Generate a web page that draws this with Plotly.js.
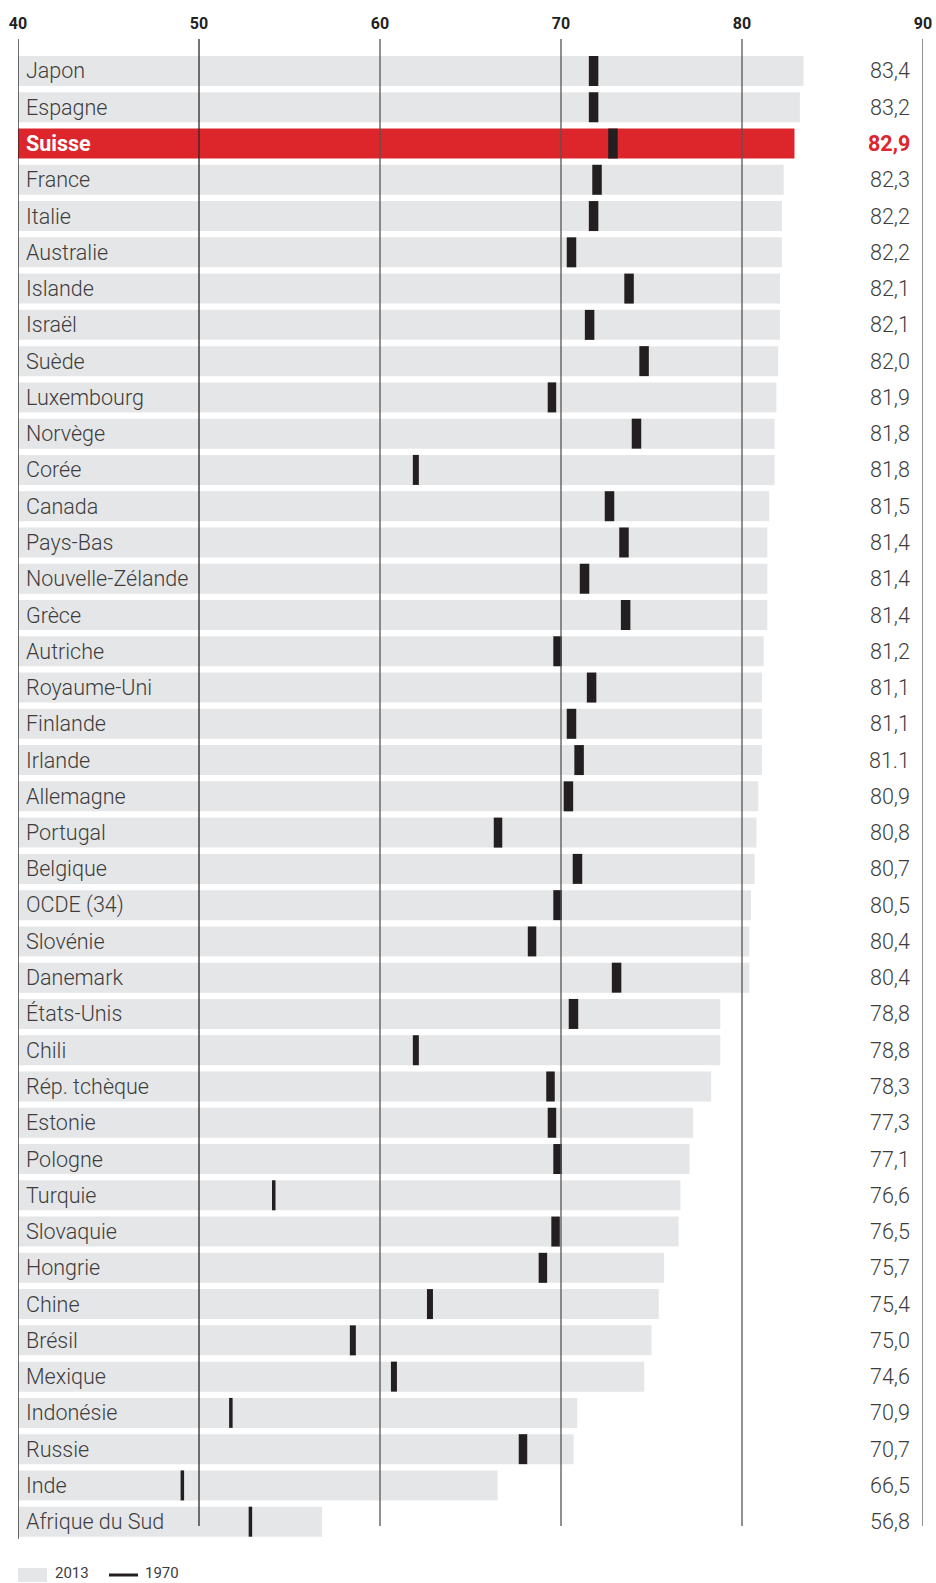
<!DOCTYPE html>
<html>
<head>
<meta charset="utf-8">
<script src="https://cdn.plot.ly/plotly-3.0.1.min.js"></script>
<style>
  html, body { margin: 0; padding: 0; background: #fff; }
  #chart { width: 936px; height: 1583px; }
</style>
</head>
<body>
<div id="chart"></div>
<script>
// ---- Data ----
const countries = ["Japon","Espagne","Suisse","France","Italie","Australie","Islande","Israël","Suède","Luxembourg","Norvège","Corée","Canada","Pays-Bas","Nouvelle-Zélande","Grèce","Autriche","Royaume-Uni","Finlande","Irlande","Allemagne","Portugal","Belgique","OCDE (34)","Slovénie","Danemark","États-Unis","Chili","Rép. tchèque","Estonie","Pologne","Turquie","Slovaquie","Hongrie","Chine","Brésil","Mexique","Indonésie","Russie","Inde","Afrique du Sud"];
const v2013 = [83.4,83.2,82.9,82.3,82.2,82.2,82.1,82.1,82.0,81.9,81.8,81.8,81.5,81.4,81.4,81.4,81.2,81.1,81.1,81.1,80.9,80.8,80.7,80.5,80.4,80.4,78.8,78.8,78.3,77.3,77.1,76.6,76.5,75.7,75.4,75.0,74.6,70.9,70.7,66.5,56.8];
const v1970 = [71.8,71.8,72.87,71.99,71.8,70.58,73.76,71.58,74.59,69.5,74.17,61.98,72.68,73.48,71.3,73.57,69.81,71.69,70.58,71.0,70.41,66.52,70.91,69.81,68.4,73.07,70.69,61.98,69.42,69.5,69.81,54.13,69.7,69.0,62.76,58.5,60.77,51.76,67.9,49.08,52.84];
const labels2013 = ["83,4","83,2","82,9","82,3","82,2","82,2","82,1","82,1","82,0","81,9","81,8","81,8","81,5","81,4","81,4","81,4","81,2","81,1","81,1","81.1","80,9","80,8","80,7","80,5","80,4","80,4","78,8","78,8","78,3","77,3","77,1","76,6","76,5","75,7","75,4","75,0","74,6","70,9","70,7","66,5","56,8"];
const xTicks = [40,50,60,70,80,90];
const highlight = "Suisse";
const legendLabels = ["2013","1970"];

// ---- Styling ----
const GRAY = "#e5e6e8", RED = "#dc262c", DARK = "#231f20", TEXT = "#3d3d3d";
const FONT = "Roboto, 'Liberation Sans', Arial, sans-serif";
const plotW = 905, plotH = 1500, xMin = 40, xMax = 90;
const pxToData = px => px * (xMax - xMin) / plotW;
// 1970 marker width rule (px), thinner for lower values as in the reference
const markerPx = v => v < 55 ? 3.5 : (v < 64 ? 6 : (v < 70.2 ? 8.5 : 9.5));
const barW = 0.827;

const barColors = countries.map(c => c === highlight ? RED : GRAY);
const mw = v1970.map(v => pxToData(markerPx(v)));

const traces = [
  {
    type: "bar", orientation: "h", y: countries, x: v2013,
    marker: { color: barColors }, width: barW, hoverinfo: "skip", showlegend: false
  },
  {
    type: "bar", orientation: "h", y: countries,
    x: mw, base: v1970.map((v, i) => v - mw[i] / 2),
    marker: { color: DARK }, width: barW, hoverinfo: "skip", showlegend: false
  }
];

const shapes = [];
// left axis line at 40
shapes.push({ type: "line", xref: "x", yref: "paper", x0: 40, x1: 40, y0: 0, y1: 1,
  line: { color: "#222", width: 1.3 }, layer: "above" });
xTicks.slice(1).forEach(t => {
  shapes.push({ type: "line", xref: "x", yref: "paper", x0: t, x1: t, y0: 0.0087, y1: 1,
    line: { color: t === 50 ? "#2a2a2a" : "#555", width: 1.3 }, layer: "above" });
});

const annotations = [];
countries.forEach((c, i) => {
  const hi = c === highlight;
  annotations.push({
    x: 40, y: c, xref: "x", yref: "y", xanchor: "left", yanchor: "middle",
    xshift: 6, text: hi ? "<b>" + c + "</b>" : c, showarrow: false,
    font: { family: FONT, size: 21.5, color: hi ? "#ffffff" : TEXT, weight: hi ? 700 : 300 }
  });
  annotations.push({
    x: 90, y: c, xref: "x", yref: "y", xanchor: "right", yanchor: "middle",
    xshift: -11, text: hi ? "<b>" + labels2013[i] + "</b>" : labels2013[i], showarrow: false,
    font: { family: FONT, size: 21.5, color: hi ? RED : TEXT, weight: hi ? 700 : 300 }
  });
});

// legend (manual), positions in px below the plot area
const py = px => -(px - 1539) / plotH;
shapes.push({ type: "rect", xref: "paper", yref: "paper", x0: 0, x1: 29 / plotW,
  y0: py(1582), y1: py(1568), fillcolor: GRAY, line: { width: 0 } });
shapes.push({ type: "line", xref: "paper", yref: "paper", x0: 91 / plotW, x1: 120 / plotW,
  y0: py(1575), y1: py(1575), line: { color: DARK, width: 3 } });
annotations.push({ xref: "paper", yref: "paper", x: 36 / plotW, y: py(1573.5), xanchor: "left",
  yanchor: "middle", text: legendLabels[0], showarrow: false, borderpad: 0,
  font: { family: FONT, size: 15, color: TEXT } });
annotations.push({ xref: "paper", yref: "paper", x: 126 / plotW, y: py(1573.5), xanchor: "left",
  yanchor: "middle", text: legendLabels[1], showarrow: false, borderpad: 0,
  font: { family: FONT, size: 15, color: TEXT } });

const layout = {
  width: 936, height: 1583,
  margin: { l: 18, r: 13, t: 39, b: 44, pad: 0 },
  paper_bgcolor: "#fff", plot_bgcolor: "#fff",
  barmode: "overlay",
  showlegend: false,
  xaxis: {
    range: [xMin, xMax], side: "top", tickvals: xTicks, ticktext: xTicks.map(String),
    showgrid: false, zeroline: false, showline: false, ticks: "",
    tickfont: { family: FONT, size: 16, color: "#222", weight: 700 },
    ticklabelstandoff: 6, fixedrange: true
  },
  yaxis: {
    type: "category", range: [40.477, -0.882], showticklabels: false,
    showgrid: false, zeroline: false, showline: false, ticks: "", fixedrange: true
  },
  shapes: shapes,
  annotations: annotations
};

Plotly.newPlot("chart", traces, layout, { displayModeBar: false, staticPlot: true });
</script>
</body>
</html>
